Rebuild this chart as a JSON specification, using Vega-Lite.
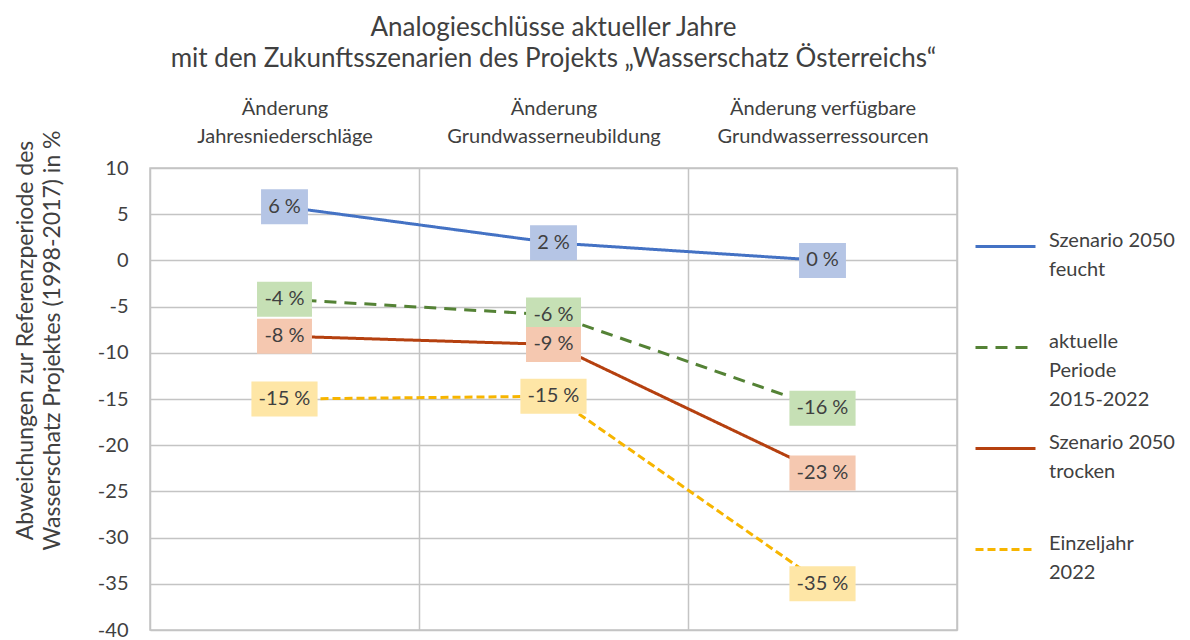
{
  "$schema": "https://vega.github.io/schema/vega-lite/v6.json",
  "autosize": "none",
  "width": 807,
  "height": 462,
  "padding": {"left": 150, "top": 168, "right": 233, "bottom": 10},
  "background": "white",
  "title": {
    "text": ["Analogieschlüsse aktueller Jahre", "mit den Zukunftsszenarien des Projekts „Wasserschatz Österreichs“"],
    "fontSize": 26,
    "font": "Lato",
    "fontWeight": "normal",
    "color": "#404040",
    "lineHeight": 31,
    "anchor": "middle",
    "frame": "group",
    "offset": 26
  },
  "data": {
    "values": [
      {"kategorie": "Änderung Jahresniederschläge", "serie": "Szenario 2050 feucht", "wert": 5.8},
      {"kategorie": "Änderung Grundwasserneubildung", "serie": "Szenario 2050 feucht", "wert": 1.9},
      {"kategorie": "Änderung verfügbare Grundwasserressourcen", "serie": "Szenario 2050 feucht", "wert": 0.0},
      {"kategorie": "Änderung Jahresniederschläge", "serie": "aktuelle Periode 2015-2022", "wert": -4.2},
      {"kategorie": "Änderung Grundwasserneubildung", "serie": "aktuelle Periode 2015-2022", "wert": -5.9},
      {"kategorie": "Änderung verfügbare Grundwasserressourcen", "serie": "aktuelle Periode 2015-2022", "wert": -16.0},
      {"kategorie": "Änderung Jahresniederschläge", "serie": "Szenario 2050 trocken", "wert": -8.2},
      {"kategorie": "Änderung Grundwasserneubildung", "serie": "Szenario 2050 trocken", "wert": -9.1},
      {"kategorie": "Änderung verfügbare Grundwasserressourcen", "serie": "Szenario 2050 trocken", "wert": -23.0},
      {"kategorie": "Änderung Jahresniederschläge", "serie": "Einzeljahr 2022", "wert": -15.0},
      {"kategorie": "Änderung Grundwasserneubildung", "serie": "Einzeljahr 2022", "wert": -14.7},
      {"kategorie": "Änderung verfügbare Grundwasserressourcen", "serie": "Einzeljahr 2022", "wert": -35.0}
    ]
  },
  "transform": [
    {"calculate": "toString(round(datum.wert)) + ' %'", "as": "beschriftung"},
    {"calculate": "length(datum.beschriftung)", "as": "laenge"}
  ],
  "encoding": {
    "x": {
      "field": "kategorie",
      "type": "nominal",
      "sort": null,
      "scale": {"type": "band", "paddingInner": 0, "paddingOuter": 0},
      "axis": {
        "orient": "top",
        "title": null,
        "tickBand": "extent",
        "ticks": false,
        "domain": false,
        "grid": true,
        "gridColor": "#c4c4c4",
        "gridWidth": 1.5,
        "labelAngle": 0,
        "labelFont": "Lato",
        "labelFontSize": 20,
        "labelColor": "#404040",
        "labelPadding": 50,
        "labelLimit": 0,
        "labelLineHeight": 28,
        "labelExpr": "[slice(datum.label, 0, lastindexof(datum.label, ' ')), slice(datum.label, lastindexof(datum.label, ' ') + 1)]"
      }
    },
    "y": {
      "field": "wert",
      "type": "quantitative",
      "scale": {"domain": [-40, 10], "nice": false, "zero": false},
      "axis": {
        "values": [-40, -35, -30, -25, -20, -15, -10, -5, 0, 5, 10],
        "ticks": false,
        "domain": false,
        "grid": true,
        "gridColor": "#c4c4c4",
        "gridWidth": 1.5,
        "labelFont": "Lato",
        "labelFontSize": 20,
        "labelColor": "#404040",
        "labelPadding": 22,
        "labelExpr": "toString(datum.value)",
        "title": ["Abweichungen zur Referenzperiode des", "Wasserschatz Projektes (1998-2017) in %"],
        "titleFont": "Lato",
        "titleFontSize": 23,
        "titleFontWeight": "normal",
        "titleColor": "#404040",
        "titleLineHeight": 27,
        "titleAngle": -90,
        "titleAlign": "center",
        "titleBaseline": "top",
        "titleX": -136,
        "titleY": 172
      }
    }
  },
  "layer": [
    {
      "mark": {"type": "line", "strokeWidth": 3},
      "encoding": {
        "stroke": {
          "field": "serie",
          "type": "nominal",
          "scale": {
            "domain": ["Szenario 2050 feucht", "aktuelle Periode 2015-2022", "Szenario 2050 trocken", "Einzeljahr 2022"],
            "range": ["#4472c4", "#548235", "#b5400f", "#f7b500"]
          },
          "legend": {
            "title": null,
            "orient": "none",
            "legendX": 824,
            "legendY": 47,
            "symbolType": "stroke",
            "symbolSize": 3600,
            "symbolStrokeWidth": 3,
            "labelFont": "Lato",
            "labelFontSize": 20,
            "labelColor": "#404040",
            "labelBaseline": "alphabetic",
            "labelOffset": 12,
            "labelLimit": 0,
            "gridAlign": "all",
            "rowPadding": 7,
            "labelExpr": "datum.label == 'aktuelle Periode 2015-2022' ? ['aktuelle', 'Periode', '2015-2022'] : [slice(datum.label, 0, lastindexof(datum.label, ' ')), slice(datum.label, lastindexof(datum.label, ' ') + 1)]"
          }
        },
        "strokeDash": {
          "field": "serie",
          "type": "nominal",
          "scale": {
            "domain": ["Szenario 2050 feucht", "aktuelle Periode 2015-2022", "Szenario 2050 trocken", "Einzeljahr 2022"],
            "range": [[1, 0], [12, 8], [1, 0], [8, 4]]
          },
          "legend": null
        }
      }
    },
    {
      "mark": {"type": "point", "filled": true, "opacity": 1, "size": 1225},
      "encoding": {
        "fill": {
          "field": "serie",
          "type": "nominal",
          "scale": {
            "domain": ["Szenario 2050 feucht", "aktuelle Periode 2015-2022", "Szenario 2050 trocken", "Einzeljahr 2022"],
            "range": ["#b5c5e5", "#c6e0b5", "#f5c8b0", "#fee6a6"]
          },
          "legend": null
        },
        "shape": {
          "field": "laenge",
          "type": "nominal",
          "scale": {
            "domain": [3, 4, 5],
            "range": ["M-1.34,-1H1.34V1H-1.34Z", "M-1.57,-1H1.57V1H-1.57Z", "M-1.89,-1H1.89V1H-1.89Z"]
          },
          "legend": null
        }
      }
    },
    {
      "mark": {"type": "text", "font": "Lato", "fontSize": 20, "color": "#404040", "baseline": "middle", "align": "center"},
      "encoding": {
        "text": {"field": "beschriftung"}
      }
    }
  ],
  "config": {
    "view": {"stroke": "#c4c4c4", "strokeWidth": 1.5},
    "style": {"guide-label": {"lineHeight": 29}}
  }
}
